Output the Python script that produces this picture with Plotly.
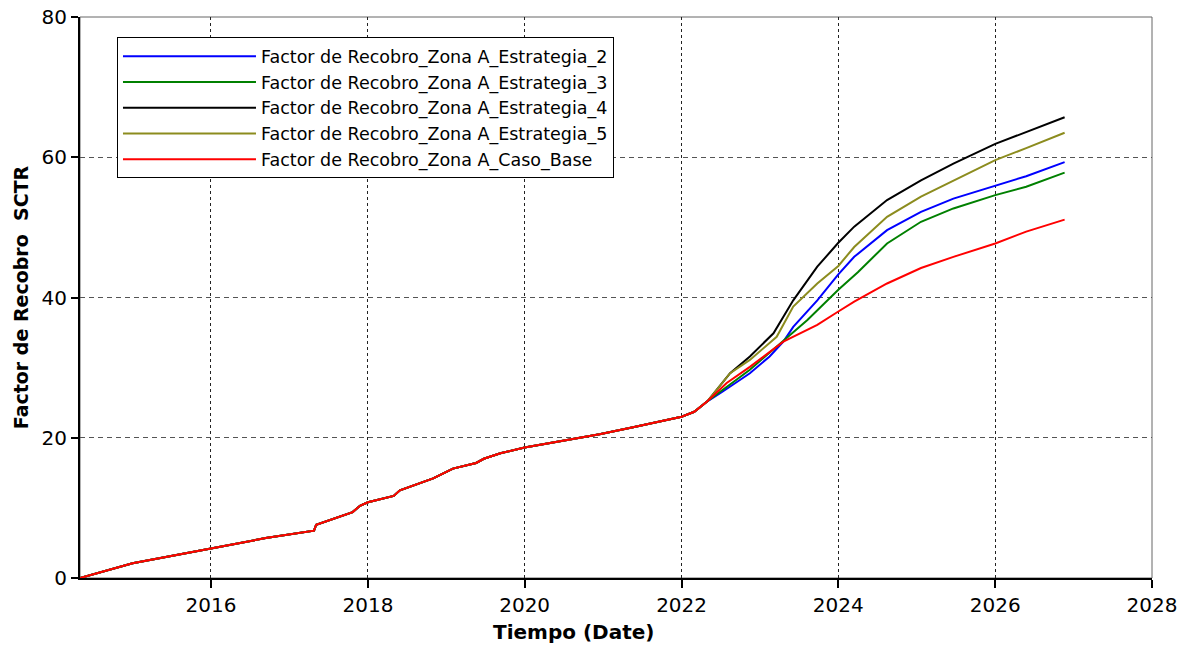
import plotly.graph_objects as go

# Shared history (Caso_Base up to divergence)
hist_dates = ["2014-05-01", "2015-01-01", "2016-01-01", "2016-09-12", "2017-04-25",
              "2017-05-05", "2017-10-22", "2017-11-25", "2018-01-01", "2018-05-01",
              "2018-05-30", "2018-11-01", "2019-02-01", "2019-05-20", "2019-06-25",
              "2019-09-10", "2020-01-01", "2020-07-15", "2020-12-15", "2021-05-20",
              "2022-01-01", "2022-03-01", "2022-05-01"]
hist_vals = [0.0, 2.1, 4.2, 5.7, 6.75,
             7.6, 9.4, 10.3, 10.8, 11.7,
             12.5, 14.2, 15.6, 16.4, 17.0,
             17.8, 18.6, 19.7, 20.5, 21.5,
             23.0, 23.7, 25.2]

# Forecasts
base_dates = ["2022-07-30", "2022-11-15", "2023-04-20", "2023-09-25", "2024-01-01",
              "2024-03-15", "2024-08-15", "2025-01-20", "2025-06-20", "2026-01-01",
              "2026-05-25", "2026-11-20"]
base_vals = [27.8, 30.1, 33.7, 36.1, 38.0, 39.4, 42.0, 44.2, 45.8, 47.7, 49.4, 51.1]

est2_dates = ["2022-07-12", "2022-11-15", "2023-02-15", "2023-04-20", "2023-06-05",
              "2023-09-25", "2024-01-01", "2024-03-15", "2024-08-15", "2025-01-20",
              "2025-06-20", "2026-01-01", "2026-05-25", "2026-11-20"]
est2_vals = [26.6, 29.2, 31.6, 33.7, 35.8, 39.6, 43.3, 45.8, 49.6, 52.2, 54.1, 56.0, 57.3, 59.3]

est3_dates = ["2022-11-15", "2023-04-20", "2023-08-10", "2024-01-01", "2024-04-01",
              "2024-08-15", "2025-01-20", "2025-06-20", "2026-01-01", "2026-05-25",
              "2026-11-20"]
est3_vals = [29.7, 33.9, 36.8, 41.1, 43.6, 47.7, 50.8, 52.7, 54.6, 55.8, 57.8]

est4_dates = ["2022-08-15", "2022-11-15", "2023-03-05", "2023-06-05", "2023-09-25",
              "2024-01-01", "2024-03-15", "2024-08-15", "2025-01-20", "2025-06-20",
              "2026-01-01", "2026-05-25", "2026-11-20"]
est4_vals = [29.2, 31.6, 34.9, 39.6, 44.4, 47.8, 50.1, 53.9, 56.7, 59.1, 61.9, 63.6, 65.7]

est5_dates = ["2022-08-15", "2022-11-15", "2023-03-20", "2023-06-05", "2023-09-25",
              "2024-01-01", "2024-03-15", "2024-08-15", "2025-01-20", "2025-06-20",
              "2026-01-01", "2026-05-25", "2026-11-20"]
est5_vals = [29.2, 31.1, 34.4, 38.7, 42.0, 44.5, 47.2, 51.5, 54.4, 56.7, 59.6, 61.3, 63.5]

names = ["Factor de Recobro_Zona A_Estrategia_2",
         "Factor de Recobro_Zona A_Estrategia_3",
         "Factor de Recobro_Zona A_Estrategia_4",
         "Factor de Recobro_Zona A_Estrategia_5",
         "Factor de Recobro_Zona A_Caso_Base"]
colors = ["#0000FF", "#008000", "#000000", "#8C8C1E", "#FF0000"]
series = [(est2_dates, est2_vals), (est3_dates, est3_vals), (est4_dates, est4_vals),
          (est5_dates, est5_vals), (base_dates, base_vals)]

x_title = "Tiempo (Date)"
y_title = "Factor de Recobro  SCTR"

FONT = "DejaVu Sans, Verdana, sans-serif"

fig = go.Figure()
for name, color, (d, v) in zip(names, colors, series):
    fig.add_trace(go.Scatter(x=hist_dates + d, y=hist_vals + v, mode="lines", name=name,
                             line=dict(color=color, width=2)))

# gray frame (top/right)
fig.add_shape(type="rect", xref="paper", yref="paper", x0=0, y0=0, x1=1, y1=1,
              line=dict(color="#666666", width=1), layer="below")

# x-axis title (sits left of centre in the reference)
fig.add_annotation(text="<b>" + x_title + "</b>", xref="paper", yref="paper",
                   x=0.46, y=-0.096, xanchor="center", yanchor="middle",
                   showarrow=False, font=dict(family=FONT, size=20, color="black"))

fig.update_layout(
    width=1191, height=645,
    margin=dict(l=80, r=39, t=17, b=67),
    paper_bgcolor="white", plot_bgcolor="white",
    font=dict(family=FONT, size=20, color="black"),
    showlegend=True,
    legend=dict(x=0.0345, y=0.9639, xanchor="left", yanchor="top",
                bgcolor="white", bordercolor="black", borderwidth=1,
                font=dict(family=FONT, size=17.5, color="black"),
                itemwidth=133, tracegroupgap=0),
    xaxis=dict(type="date", range=["2014-05-01", "2028-01-01"],
               tick0="2016-01-01", dtick="M24", tickformat="%Y",
               showgrid=True, gridcolor="#222222", griddash="3px,3px", gridwidth=1,
               showline=True, linecolor="black", linewidth=2,
               ticks="outside", ticklen=8, tickwidth=1.5, tickcolor="black",
               tickfont=dict(family=FONT, size=20), ticklabeloverflow="allow",
               zeroline=False, automargin=False),
    yaxis=dict(range=[0, 80], dtick=20, tick0=0,
               showgrid=True, gridcolor="#555555", griddash="5px,4px", gridwidth=1,
               showline=True, linecolor="black", linewidth=2,
               ticks="outside", ticklen=7, tickwidth=1.5, tickcolor="black",
               tickfont=dict(family=FONT, size=20), ticklabeloverflow="allow",
               zeroline=False, automargin=False,
               title=dict(text="<b>" + y_title + "</b>", font=dict(family=FONT, size=19), standoff=8)),
)

fig.write_html("out.html", config={"displayModeBar": False},
               post_script="document.body.style.margin='0';document.body.style.overflow='hidden';")
